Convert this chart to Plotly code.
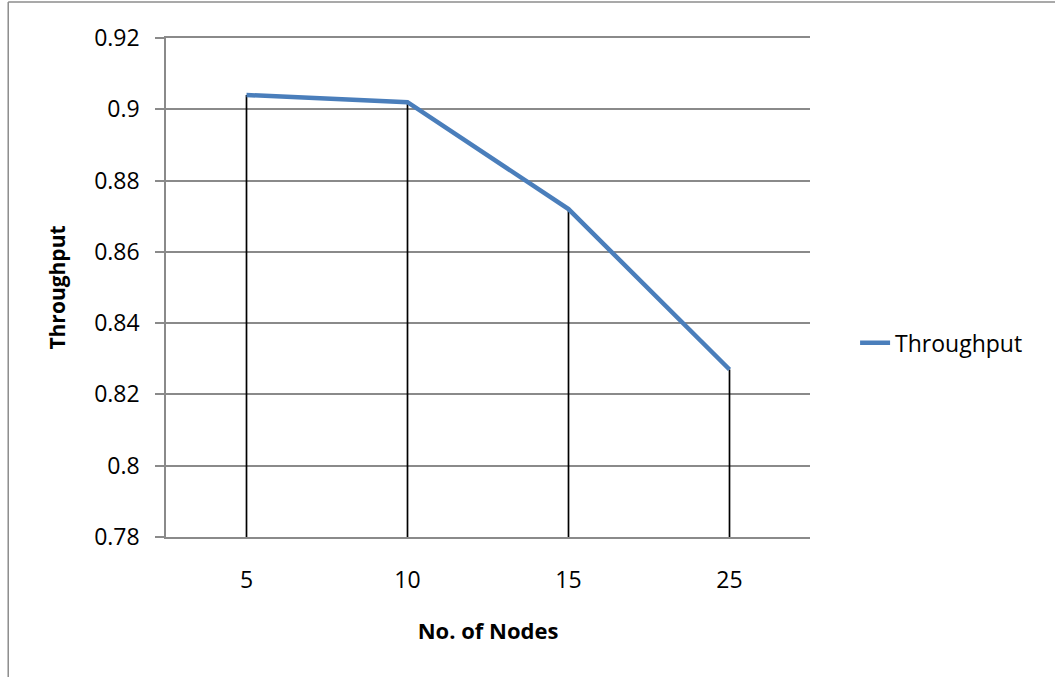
import plotly.graph_objects as go

# Throughput versus network size
nodes = ["5", "10", "15", "25"]
throughput = [0.904, 0.902, 0.872, 0.827]
y_ticks = [0.78, 0.80, 0.82, 0.84, 0.86, 0.88, 0.90, 0.92]
y_tick_text = ["0.78", "0.8", "0.82", "0.84", "0.86", "0.88", "0.9", "0.92"]
y_floor = 0.78

FONT = "Open Sans, Liberation Sans, sans-serif"
GRID = "#8a8a8a"

fig = go.Figure()

# Drop lines from each point down to the category axis
drop_x, drop_y = [], []
for n, v in zip(nodes, throughput):
    drop_x += [n, n, None]
    drop_y += [y_floor, v, None]
fig.add_trace(go.Scatter(
    x=drop_x, y=drop_y, mode="lines",
    line=dict(color="#000000", width=1.7),
    showlegend=False, hoverinfo="skip",
))

fig.add_trace(go.Scatter(
    x=nodes, y=throughput, mode="lines", name="Throughput",
    line=dict(color="#4a7ebb", width=4.5),
))

fig.update_layout(
    width=1055, height=677,
    margin=dict(l=166, r=245, t=38, b=140),
    paper_bgcolor="white", plot_bgcolor="white",
    font=dict(family=FONT, size=23, color="#000000"),
    showlegend=True,
    legend=dict(
        x=1.07, y=0.389, xanchor="left", yanchor="middle",
        font=dict(family=FONT, size=23), bgcolor="rgba(0,0,0,0)",
    ),
    xaxis=dict(
        type="category", categoryorder="array", categoryarray=nodes,
        range=[-0.5, 3.5],
        showgrid=False, zeroline=False,
        showline=True, linecolor=GRID, linewidth=1.5, mirror=True,
        ticks="", ticklabelstandoff=22,
        tickfont=dict(family=FONT, size=23),
        title=dict(text="<b>No. of Nodes</b>", standoff=29,
                   font=dict(family=FONT, size=22)),
    ),
    yaxis=dict(
        range=[0.78, 0.92],
        tickvals=y_ticks, ticktext=y_tick_text,
        showgrid=True, gridcolor=GRID, gridwidth=1.5,
        zeroline=False,
        showline=True, linecolor=GRID, linewidth=1.5,
        ticks="outside", ticklen=9, tickcolor=GRID, tickwidth=1.5,
        ticklabelstandoff=11,
        tickfont=dict(family=FONT, size=23),
        title=dict(text="<b>Throughput</b>", standoff=23,
                   font=dict(family=FONT, size=21)),
    ),
    shapes=[
        # outer chart border (top and left edges)
        dict(type="line", xref="paper", yref="paper",
             x0=-0.245, x1=1.5, y0=1.072, y1=1.072,
             line=dict(color="#8c8c8c", width=1.5)),
        dict(type="line", xref="paper", yref="paper",
             x0=-0.245, x1=-0.245, y0=1.072, y1=-0.35,
             line=dict(color="#8c8c8c", width=1.5)),
    ],
)

fig.write_html("out.html")
